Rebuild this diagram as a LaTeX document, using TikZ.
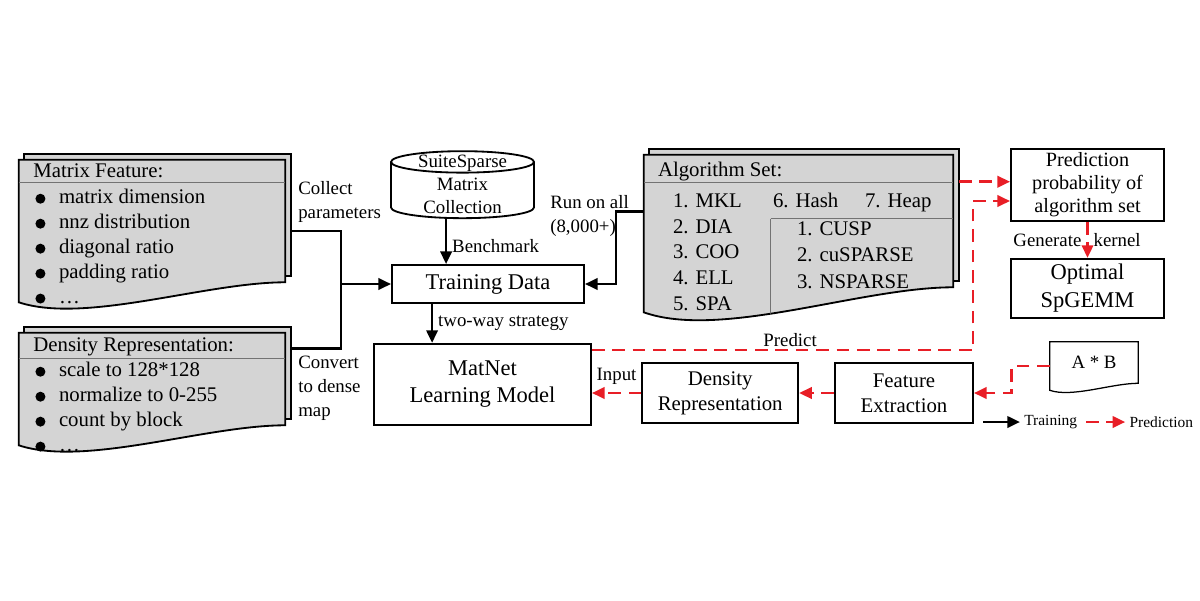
\documentclass[tikz,border=0pt]{standalone}
\usepackage{fontspec}
\setmainfont{Liberation Serif}
\usepackage{xcolor}
\usepackage{tikz}
\usetikzlibrary{positioning,shapes,arrows,arrows.meta,calc}
\definecolor{predred}{RGB}{232,30,38}
\newcommand{\bigfont}{\fontsize{16}{19.5}\selectfont}
\newcommand{\txtfont}{\fontsize{14.8}{17.5}\selectfont}
\newcommand{\lblfont}{\fontsize{13.4}{17}\selectfont}
\newcommand{\legfont}{\fontsize{11}{12}\selectfont}
\pgfdeclarelayer{bg}
\pgfsetlayers{bg,main}
\tikzset{
docshape/.style 2 args={insert path={(#1.north west) -- (#1.north east) -- ($(#1.south east)+(0,#2)$)
  .. controls ($(#1.south east)!0.3!(#1.south west)+(0,#2)$) and ($(#1.south west)!0.25!(#1.south east)+(0,-1.1*#2)$) .. (#1.south west) -- cycle}},
docstack/.style 2 args={insert path={($(#1.north west)+(0.14,0.15)$) rectangle ($(#1.south east)+(0.14,#2+0.15)$)}}
}
\begin{document}
\begin{tikzpicture}[
box/.style={rectangle, draw=black, line width=1.3pt, align=center, inner sep=0pt},
doc/.style={rectangle, draw=none, inner sep=0pt, minimum width=6.65cm},
docfront/.style={draw=black, line width=1.3pt, fill=black!17},
docback/.style={draw=black, line width=1.3pt, fill=black!17},
sepline/.style={draw=black!55, line width=0.8pt},
dot/.style={circle, fill=black, minimum size=0.25cm, inner sep=0pt, text height=0pt, text depth=0pt, xshift=-0.325cm},
item/.style={font=\txtfont, inner sep=0pt, text height=0.42cm, text depth=0.19cm, anchor=west, label={[dot]left:{}}},
entry/.style={font=\txtfont, inner sep=0pt, text height=0.42cm, text depth=0.205cm, anchor=west},
title/.style={font=\txtfont, inner sep=0pt, anchor=west},
lbl/.style={font=\lblfont, align=left},
wire/.style={draw=black, line width=2pt},
tline/.style={wire, -{Triangle[length=9pt,width=8pt]}},
pline/.style={draw=predred, line width=2pt, dash pattern=on 9pt off 5.5pt, -{Triangle[length=9pt,width=8pt]}}
]
\useasboundingbox (0,0) rectangle (30,-15);

%Nodes
\node[doc, minimum height=3.55cm] (mat_feat) at (3.8,-5.775) {};
\node[doc, minimum height=2.8cm] (dens_rep) at (3.8,-9.725) {};
\node[doc, minimum width=7.725cm, minimum height=3.925cm] (alg_set) at (19.9625,-5.8375) {};
\node[doc, minimum width=2.2cm, minimum height=1.2cm, font=\lblfont, text depth=0.2cm] (a_b) at (27.35,-9.15) {A * B};

\node[box, minimum width=4.8cm, minimum height=0.95cm, font=\bigfont] (t_data) at (12.2,-7.1) {Training Data};
\node[cylinder, shape border rotate=90, aspect=0.15, draw=black, line width=1.3pt, text width=3.575cm, minimum width=3.575cm, minimum height=1.675cm, inner sep=0pt,
  label={[align=center, yshift=0.16cm, font=\fontsize{13.4}{16.4}\selectfont]center:{SuiteSparse\\Matrix\\Collection}}] (suite) [above=1.125cm of t_data, xshift=-0.6375cm] {};
\node[box, minimum width=5.425cm, minimum height=2.025cm, font=\fontsize{16}{19.2}\selectfont] (mat_net) [below=0.975cm of t_data, xshift=-0.1375cm] {MatNet\\Learning Model};
\node[box, minimum width=3.825cm, minimum height=1.8cm, font=\fontsize{14.4}{16.4}\selectfont] (pred_prob) at (27.1875,-4.625) {Prediction\\probability of\\algorithm set};
\node[box, minimum width=3.825cm, minimum height=1.475cm, font=\fontsize{16}{20}\selectfont] (opt_kernel) [below=0.9cm of pred_prob] {Optimal\\SpGEMM};
\node[box, minimum width=3.45cm, minimum height=1.5cm, font=\fontsize{14.8}{17.8}\selectfont] (feat_ext) at (22.6,-9.825) {Feature\\Extraction};
\node[box, minimum width=3.9cm, minimum height=1.5cm, font=\fontsize{14.8}{17.8}\selectfont] (dens_box) [left=0.875cm of feat_ext] {Density\\Representation};

%Document sheets
\begin{pgfonlayer}{bg}
\draw[docback, docstack={mat_feat}{0.5}];
\draw[docfront, docshape={mat_feat}{0.5}];
\draw[docback, docstack={dens_rep}{0.5}];
\draw[docfront, docshape={dens_rep}{0.5}];
\draw[docback, docstack={alg_set}{0.625}];
\draw[docfront, docshape={alg_set}{0.625}];
\draw[draw=black, line width=0.9pt, fill=white, docshape={a_b}{0.175}];
\end{pgfonlayer}

\draw[sepline] ($(mat_feat.north west)+(0,-0.575)$) -- ($(mat_feat.north east)+(0,-0.575)$);
\draw[sepline] ($(dens_rep.north west)+(0,-0.65)$) -- ($(dens_rep.north east)+(0,-0.65)$);
\draw[sepline] ($(alg_set.north west)+(0,-0.7)$) -- ($(alg_set.north east)+(0,-0.7)$);
\begin{scope}
\clip[docshape={alg_set}{0.625}];
\draw[sepline] ($(alg_set.north west)+(3.175,-1.6)$) -- ($(alg_set.south west)+(3.175,-1)$);
\end{scope}
\draw[sepline] ($(alg_set.north west)+(3.175,-1.6)$) -- ($(alg_set.north east)+(0,-1.6)$);

%Document texts
\node[title] (mat_feat_title) at ($(mat_feat.north west)+(0.36,-0.27)$) {Matrix Feature:};
\node[item] (mat_feat_1) at ($(mat_feat.north west)+(1.0,-0.975)$) {matrix dimension};
\node[item] (mat_feat_2) [below=0pt of mat_feat_1.south west, anchor=north west] {nnz distribution};
\node[item] (mat_feat_3) [below=0pt of mat_feat_2.south west, anchor=north west] {diagonal ratio};
\node[item] (mat_feat_4) [below=0pt of mat_feat_3.south west, anchor=north west] {padding ratio};
\node[item] (mat_feat_5) [below=0pt of mat_feat_4.south west, anchor=north west] {…};

\node[title] (dens_rep_title) at ($(dens_rep.north west)+(0.36,-0.35)$) {Density Representation:};
\node[item] (dens_rep_1) at ($(dens_rep.north west)+(1.0,-0.975)$) {scale to 128*128};
\node[item] (dens_rep_2) [below=0pt of dens_rep_1.south west, anchor=north west] {normalize to 0-255};
\node[item] (dens_rep_3) [below=0pt of dens_rep_2.south west, anchor=north west] {count by block};
\node[item] (dens_rep_4) [below=0pt of dens_rep_3.south west, anchor=north west] {…};

\node[title] (alg_set_title) at ($(alg_set.north west)+(0.35,-0.42)$) {Algorithm Set:};
\node[entry] (alg_1) at ($(alg_set.north west)+(0.725,-1.22)$) {1. MKL};
\node[entry] (alg_2) [below=0pt of alg_1.south west, anchor=north west] {2. DIA};
\node[entry] (alg_3) [below=0pt of alg_2.south west, anchor=north west] {3. COO};
\node[entry] (alg_4) [below=0pt of alg_3.south west, anchor=north west] {4. ELL};
\node[entry] (alg_5) [below=0pt of alg_4.south west, anchor=north west] {5. SPA};
\node[entry] (alg_6) at ($(alg_set.north west)+(3.225,-1.22)$) {6. Hash};
\node[entry] (alg_7) at ($(alg_set.north west)+(5.525,-1.22)$) {7. Heap};
\node[entry] (gpu_1) at ($(alg_set.north west)+(3.825,-1.9)$) {1. CUSP};
\node[entry] (gpu_2) [below=0.025cm of gpu_1.south west, anchor=north west] {2. cuSPARSE};
\node[entry] (gpu_3) [below=0.025cm of gpu_2.south west, anchor=north west] {3. NSPARSE};

%Labels
\node[lbl, inner sep=0pt, anchor=west] (collect_lbl) at (7.45,-5.05) {Collect\\parameters};
\node[lbl, inner sep=0pt, anchor=west] (convert_lbl) at (7.45,-9.7) {Convert\\to dense\\map};
\node[lbl, inner sep=0pt, anchor=west] (run_lbl) at (13.75,-5.4) {Run on all\\(8,000+)};

%Connections
\coordinate (join) at (8.525,-7.1);
\draw[wire] ($(mat_feat.east)+(0.14,0)$) -| (join) |- ($(dens_rep.north east)+(0.14,-0.4)$);
\draw[tline] (join) -- (t_data.west);

\coordinate (bm_in) at ($(t_data.north west)+(1.375,0)$);
\draw[tline] (suite.south -| bm_in) -- (bm_in) node[pos=0.6, right, font=\lblfont] {Benchmark};
\coordinate (tw_out) at ($(t_data.south west)+(1.025,0)$);
\draw[tline] (tw_out) -- (tw_out |- mat_net.north) node[midway, right, font=\lblfont] {two-way strategy};

\coordinate (alg_in) at ($(alg_set.north west)+(0,-1.425)$);
\coordinate (run_turn) at (15.4,-7.1);
\draw[tline] (alg_in) -| (run_turn) -- (t_data.east);

\coordinate (alg_out) at ($(alg_set.north east)+(0.14,-0.675)$);
\draw[pline] (alg_out) -- (alg_out -| pred_prob.west);
\coordinate (net_out) at ($(mat_net.north east)+(0,-0.175)$);
\coordinate (pred_turn) at (24.325,-5.025);
\draw[pline] (net_out) -| (pred_turn) node[pos=0.26, above, inner sep=1pt, font=\lblfont] {Predict} -- (pred_turn -| pred_prob.west);

\draw[pline] (pred_prob.south) -- (opt_kernel.north) node[midway, left, font=\lblfont] {Generate} node[midway, right, font=\lblfont] {kernel};
\draw[pline] (feat_ext.west) -- (dens_box.east);
\draw[pline] (dens_box.west) -- (dens_box.west -| mat_net.east) node[midway, above=2pt, font=\lblfont] {Input};
\draw[pline] (a_b.west) -| ($(a_b.west)!0.5!(feat_ext.east)$) |- (feat_ext.east);

%Legend
\coordinate (lg_a) at (24.575,-10.55);
\node[font=\legfont, inner sep=0.1cm, right=0.925cm of lg_a] (lg_train) {Training};
\node[font=\legfont, inner sep=0.1cm, right=1.1cm of lg_train] (lg_pred) {Prediction};
\draw[tline] (lg_a) -- (lg_train.west);
\draw[pline, shorten <=0.12cm] (lg_train.east) -- (lg_pred.west);
\end{tikzpicture}
\end{document}
